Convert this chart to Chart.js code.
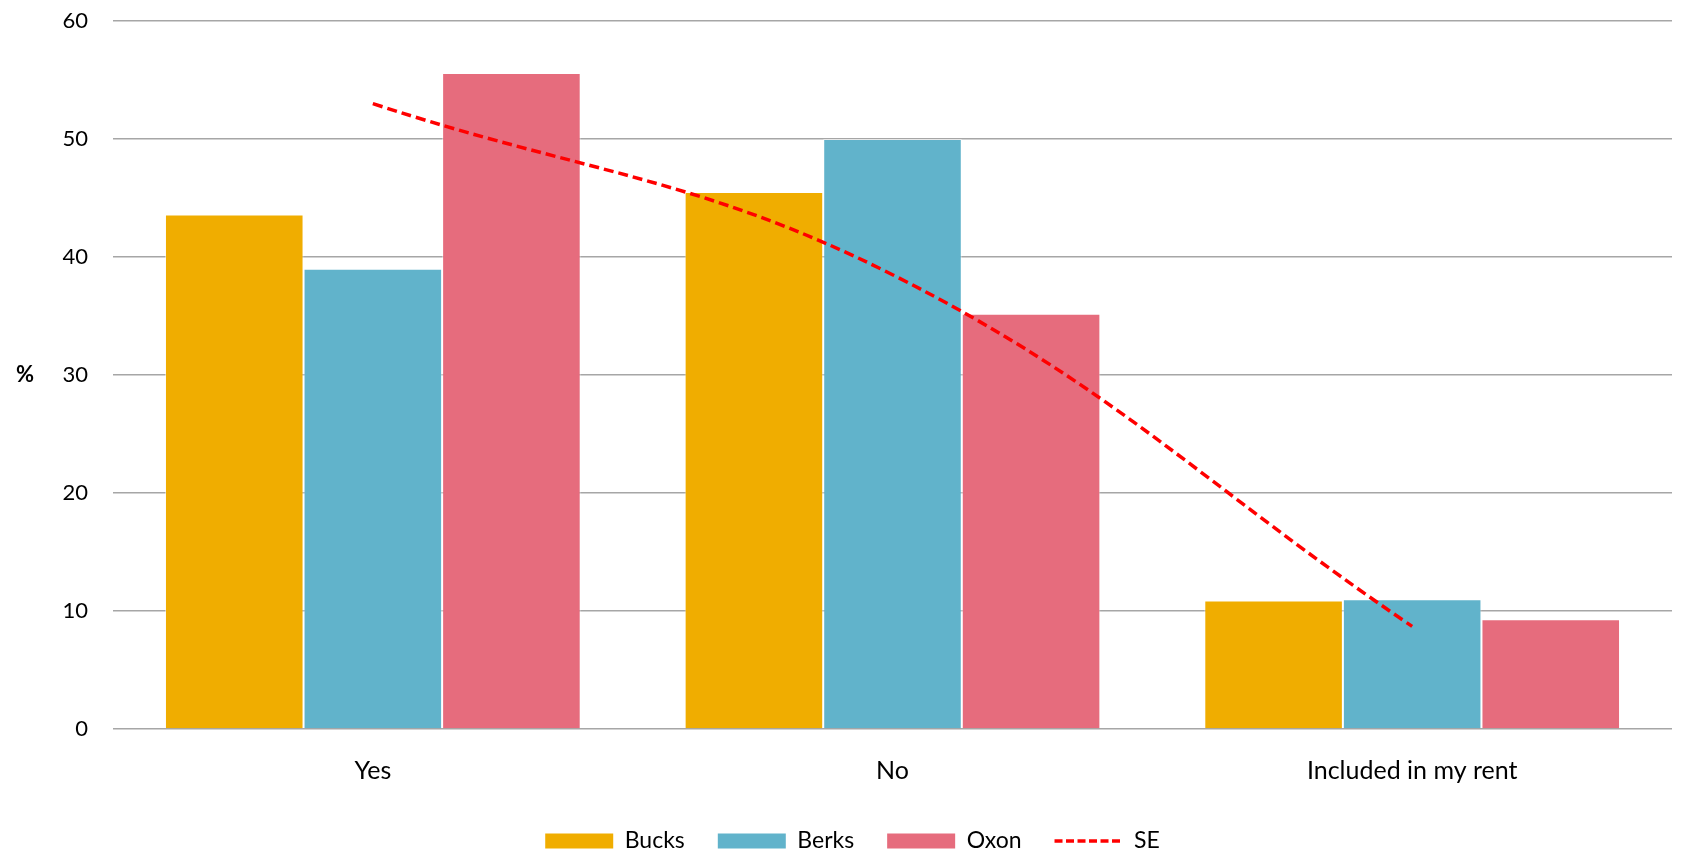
<!DOCTYPE html>
<html>
<head>
<meta charset="utf-8">
<script src="https://cdn.jsdelivr.net/npm/chart.js@4/dist/chart.umd.min.js"></script>
<style>
  html, body { margin: 0; padding: 0; background: #fff; }
  #wrap { width: 1681px; height: 852px; position: relative; }
</style>
</head>
<body>
<div id="wrap"><canvas id="c" width="1681" height="852"></canvas></div>
<script>
const categories = ["Yes", "No", "Included in my rent"];
const bucks = [43.6, 45.5, 10.9];
const berks = [39.0, 50.0, 11.0];
const oxon = [55.6, 35.2, 9.3];
const se = [53.0, 38.5, 8.7];
const yTicks = [0, 10, 20, 30, 40, 50, 60];
const yTitle = "%";

const FONT = "Lato, 'Open Sans', sans-serif";

const yTitlePlugin = {
  id: 'yTitle',
  afterDraw(chart) {
    const ctx = chart.ctx;
    const a = chart.chartArea;
    ctx.save();
    ctx.font = "bold 22px " + FONT;
    ctx.fillStyle = "#000";
    ctx.textAlign = "center";
    ctx.textBaseline = "middle";
    ctx.fillText(yTitle, 25, (a.top + a.bottom) / 2);
    ctx.restore();
  }
};

// Recentre the legend row (Chart.js counts trailing item padding when centring)
const legendShift = {
  id: 'legendShift',
  afterLayout(chart) {
    const lg = chart.legend;
    if (!lg) return;
    const dx = lg.options.labels.padding / 2;
    lg.left += dx; lg.right += dx;
    lg.top += 2; lg.bottom += 2;
  }
};

new Chart(document.getElementById('c'), {
  type: 'bar',
  data: {
    labels: categories,
    datasets: [
      { label: 'Bucks', data: bucks, backgroundColor: '#F0AD00', borderColor: 'rgba(255,255,255,0.5)', borderWidth: 1, order: 1, pointStyle: 'rect' },
      { label: 'Berks', data: berks, backgroundColor: '#61B3CB', borderColor: 'rgba(255,255,255,0.5)', borderWidth: 1, order: 1, pointStyle: 'rect' },
      { label: 'Oxon', data: oxon, backgroundColor: '#E66C7D', borderColor: 'rgba(255,255,255,0.5)', borderWidth: 1, order: 1, pointStyle: 'rect' },
      { type: 'line', label: 'SE', data: se, borderColor: '#FF0000', backgroundColor: '#FF0000', borderWidth: 3.5, borderDash: [10, 5], pointRadius: 0, tension: 0.4, fill: false, order: 0, pointStyle: 'line' }
    ]
  },
  options: {
    responsive: false,
    animation: false,
    layout: { padding: { left: 0, right: 9, top: 21, bottom: -8.5 } },
    datasets: { bar: { categoryPercentage: 0.8, barPercentage: 1.0 } },
    scales: {
      x: {
        afterFit(scale) { scale.height = 65.5; },
        grid: { display: false, drawTicks: false },
        border: { display: false },
        ticks: { font: { family: FONT, size: 25 }, color: '#000', padding: 27 }
      },
      y: {
        min: 0, max: 60,
        afterBuildTicks(scale) { scale.ticks = yTicks.map(v => ({ value: v })); },
        afterFit(scale) { scale.width = 113; scale.paddingTop = 0; },
        grid: { color: '#a6a6a6', lineWidth: 1.5, drawTicks: false },
        border: { display: false },
        ticks: { font: { family: FONT, size: 22 }, color: '#000', padding: 25 }
      }
    },
    plugins: {
      tooltip: { enabled: false },
      legend: {
        position: 'bottom',
        labels: {
          usePointStyle: true,
          pointStyleWidth: 68,
          boxHeight: 15,
          boxWidth: 68,
          padding: 33,
          font: { family: FONT, size: 23 },
          color: '#000',
          sort: (a, b) => a.datasetIndex - b.datasetIndex,
          generateLabels(chart) {
            const items = Chart.defaults.plugins.legend.labels.generateLabels(chart);
            items.forEach(it => {
              const ds = chart.data.datasets[it.datasetIndex];
              if (ds.type === 'line') {
                it.lineDash = [8, 3.5];
                it.lineWidth = 3.5;
                it.strokeStyle = ds.borderColor;
              } else {
                it.lineWidth = 0;
              }
            });
            return items;
          }
        }
      }
    }
  },
  plugins: [yTitlePlugin, legendShift]
});
</script>
</body>
</html>
